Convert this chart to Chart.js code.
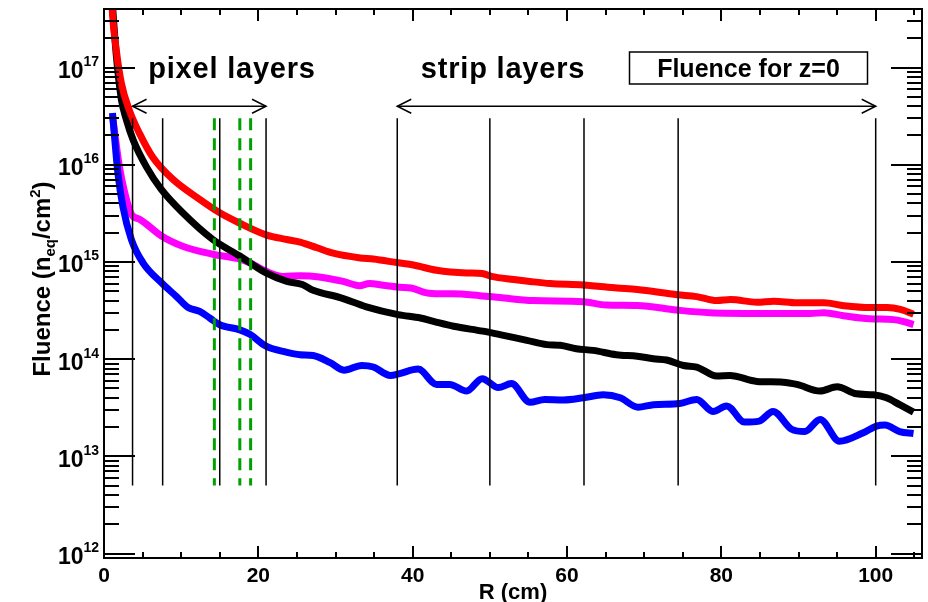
<!DOCTYPE html>
<html>
<head>
  <title>Fluence vs R</title>
  <script src="https://cdn.jsdelivr.net/npm/chart.js@4"></script>
  <style>
    html, body {
      margin: 0;
      padding: 0;
      background: #fff;
    }
    canvas {
      display: block;
    }
  </style>
</head>
<body>
  <canvas id="fluenceCanvas" width="928" height="602"></canvas>

  <script>
    // radius (cm) and fluence (n_eq/cm^2) for each curve
    const rRed = [1.0, 1.1, 1.6, 2.25, 3.3, 4.6, 6.3, 8.9, 12.4, 15.0, 17.6, 21.0, 23.7, 25.4, 27.6, 29.7, 33.2, 34.9, 38.1, 40.1, 43.1, 47.0, 49.0, 50.2, 53.1, 55.2, 57.8, 62.1, 66.5, 69.1, 74.3, 76.8, 79.4, 81.2, 84.6, 86.8, 89.8, 93.3, 95.9, 99.3, 101.5, 103.2, 104.9];
    const fRed = [5.5e17, 3.6e17, 1.5e17, 6.9e16, 3.6e16, 2.1e16, 1.2e16, 7.1e15, 4.4e15, 3.2e15, 2.5e15, 1.9e15, 1.7e15, 1.6e15, 1.4e15, 1.23e15, 1.1e15, 1.07e15, 9.8e14, 9.3e14, 8.2e14, 7.7e14, 7.6e14, 7.1e14, 6.6e14, 6.3e14, 6.0e14, 5.8e14, 5.4e14, 5.2e14, 4.6e14, 4.4e14, 4.0e14, 4.1e14, 3.85e14, 3.95e14, 3.8e14, 3.8e14, 3.55e14, 3.4e14, 3.4e14, 3.25e14, 2.9e14];

    const rBlack = [1.0, 1.6, 2.25, 2.9, 3.8, 5.5, 7.4, 10.2, 14.1, 17.6, 21.0, 23.7, 25.7, 27.1, 30.6, 34.0, 38.1, 41.0, 42.7, 45.3, 49.1, 51.3, 54.8, 57.4, 59.1, 61.2, 63.4, 66.4, 69.1, 71.2, 72.9, 75.1, 76.8, 79.4, 81.1, 84.6, 88.0, 89.8, 92.8, 95.0, 97.5, 99.7, 101.4, 103.1, 104.9];
    const fBlack = [5.6e17, 1.32e17, 4.7e16, 2.9e16, 1.78e16, 9.5e15, 5.6e15, 3.2e15, 1.7e15, 1.15e15, 7.7e14, 6.3e14, 5.85e14, 5.1e14, 4.3e14, 3.45e14, 2.87e14, 2.65e14, 2.45e14, 2.18e14, 1.94e14, 1.79e14, 1.56e14, 1.41e14, 1.39e14, 1.28e14, 1.23e14, 1.11e14, 1.07e14, 1.01e14, 9.8e13, 8.6e13, 8.3e13, 6.7e13, 6.8e13, 5.9e13, 5.8e13, 5.5e13, 4.7e13, 5.2e13, 4.4e13, 4.3e13, 4.0e13, 3.4e13, 2.85e13];

    const rMagenta = [1.1, 1.4, 2.0, 2.7, 3.55, 4.6, 5.5, 7.4, 10.2, 14.1, 17.6, 18.9, 21.0, 23.2, 25.4, 27.9, 31.0, 33.1, 34.4, 36.2, 38.3, 39.8, 41.8, 43.5, 45.2, 48.7, 51.3, 55.6, 62.1, 65.1, 69.1, 74.2, 78.5, 85.0, 91.5, 93.3, 95.8, 99.2, 102.3, 103.5, 104.9];
    const fMagenta = [3.2e16, 2.1e16, 9.5e15, 5.1e15, 3.1e15, 2.75e15, 2.45e15, 1.86e15, 1.45e15, 1.2e15, 1.07e15, 9.8e14, 8.0e14, 7.1e14, 7.2e14, 7.0e14, 6.3e14, 5.7e14, 6.0e14, 5.75e14, 5.5e14, 5.4e14, 4.8e14, 4.7e14, 4.7e14, 4.5e14, 4.3e14, 4.0e14, 3.9e14, 3.6e14, 3.56e14, 3.2e14, 3.0e14, 2.95e14, 2.95e14, 3.0e14, 2.8e14, 2.6e14, 2.55e14, 2.45e14, 2.27e14];

    const rBlue = [1.1, 1.4, 1.8, 2.45, 3.55, 5.05, 7.45, 9.4, 10.9, 12.4, 13.7, 15.0, 17.6, 18.9, 21.0, 23.6, 25.4, 27.1, 29.3, 31.1, 33.4, 34.9, 37.1, 38.3, 40.7, 43.1, 44.8, 47.0, 49.0, 51.1, 52.8, 55.2, 57.1, 59.5, 62.1, 64.7, 66.9, 69.2, 71.2, 74.6, 76.8, 78.9, 80.7, 83.0, 84.9, 86.7, 89.1, 90.8, 92.8, 95.3, 98.4, 100.1, 101.2, 103.1, 104.9];
    const fBlue = [3.4e16, 1.8e16, 8.2e15, 3.7e15, 1.7e15, 9.8e14, 6.1e14, 4.4e14, 3.4e14, 3.1e14, 2.65e14, 2.26e14, 2.0e14, 1.8e14, 1.36e14, 1.18e14, 1.11e14, 1.09e14, 9.2e13, 7.7e13, 8.6e13, 8.3e13, 6.8e13, 7.1e13, 7.9e13, 5.5e13, 5.5e13, 4.7e13, 6.3e13, 5.1e13, 5.6e13, 3.6e13, 3.85e13, 3.8e13, 4.0e13, 4.3e13, 4.0e13, 3.2e13, 3.4e13, 3.5e13, 3.85e13, 2.9e13, 3.3e13, 2.25e13, 2.3e13, 2.9e13, 1.9e13, 1.8e13, 2.4e13, 1.43e13, 1.75e13, 2.05e13, 2.1e13, 1.8e13, 1.72e13];

    // detector layer radii (cm)
    const pixelLayers = [3.7, 7.6, 15.0, 21.0];
    const pixelDisks = [14.3, 17.6, 19.0];
    const stripLayers = [38.0, 50.0, 62.2, 74.4, 100.0];
    const layerBottom = 5e12;
    const layerTop = 3e16;
    const arrowLevel = 4e16;

    // axes
    const xMin = 0, xMax = 106;
    const yMin = 9e11, yMax = 4e17;
    const xTickLabels = [0, 20, 40, 60, 80, 100];
    const yDecades = [12, 13, 14, 15, 16, 17];

    const FONT = '"Liberation Sans", Arial, Helvetica, sans-serif';

    function toPoints(rs, fs) {
      return rs.map((r, i) => ({ x: r, y: fs[i] }));
    }

    function curve(rs, fs, color) {
      return {
        data: toPoints(rs, fs),
        borderColor: color,
        backgroundColor: color,
        borderWidth: 7,
        borderCapStyle: 'butt',
        borderJoinStyle: 'round',
        pointRadius: 0,
        showLine: true,
        cubicInterpolationMode: 'monotone',
        clip: 0
      };
    }

    function arrowHead(ctx, x, y, dir) {
      ctx.beginPath();
      ctx.moveTo(x - dir * 14, y - 7);
      ctx.lineTo(x, y);
      ctx.lineTo(x - dir * 14, y + 7);
      ctx.stroke();
    }

    function vline(ctx, px, y0, y1) {
      ctx.beginPath();
      ctx.moveTo(px, y0);
      ctx.lineTo(px, y1);
      ctx.stroke();
    }

    const decorations = {
      id: 'decorations',
      afterDatasetsDraw(chart) {
        const ctx = chart.ctx;
        const a = chart.chartArea;
        const xs = chart.scales.x;
        const ys = chart.scales.y;
        ctx.save();

        // layer positions
        const yTop = ys.getPixelForValue(layerTop);
        const yBot = ys.getPixelForValue(layerBottom);
        ctx.strokeStyle = '#000';
        ctx.lineWidth = 1.5;
        pixelLayers.concat(stripLayers).forEach(r => vline(ctx, xs.getPixelForValue(r), yTop, yBot));

        ctx.strokeStyle = '#00a000';
        ctx.lineWidth = 3;
        ctx.setLineDash([12, 8]);
        pixelDisks.forEach(r => vline(ctx, xs.getPixelForValue(r), yTop, yBot));
        ctx.setLineDash([]);

        // arrows spanning each layer group
        const ay = ys.getPixelForValue(arrowLevel);
        ctx.strokeStyle = '#000';
        ctx.lineWidth = 1.5;
        [[pixelLayers[0], pixelLayers[pixelLayers.length - 1]],
         [stripLayers[0], stripLayers[stripLayers.length - 1]]].forEach(([r0, r1]) => {
          const x0 = xs.getPixelForValue(r0);
          const x1 = xs.getPixelForValue(r1);
          ctx.beginPath();
          ctx.moveTo(x0, ay);
          ctx.lineTo(x1, ay);
          ctx.stroke();
          arrowHead(ctx, x0, ay, -1);
          arrowHead(ctx, x1, ay, 1);
        });

        // group titles
        ctx.fillStyle = '#000';
        ctx.textBaseline = 'alphabetic';
        ctx.textAlign = 'center';
        ctx.font = 'bold 29px ' + FONT;
        if ('letterSpacing' in ctx) ctx.letterSpacing = '0.8px';
        ctx.fillText('pixel layers', 232, 78);
        ctx.fillText('strip layers', 503, 78);
        if ('letterSpacing' in ctx) ctx.letterSpacing = '0px';

        // label box
        ctx.lineWidth = 1.5;
        ctx.strokeRect(629.5, 52, 238, 32);
        ctx.font = 'bold 25px ' + FONT;
        ctx.fillText('Fluence for z=0', 748.5, 77);

        // frame
        ctx.lineWidth = 2;
        ctx.strokeRect(a.left, a.top, a.right - a.left, a.bottom - a.top);

        // y ticks, both sides
        ctx.beginPath();
        for (let e = 11; e <= 17; e++) {
          for (let m = 1; m <= 9; m++) {
            const v = m * Math.pow(10, e);
            if (v < yMin || v > yMax) continue;
            const py = Math.round(ys.getPixelForValue(v));
            const len = m === 1 ? 31 : 15;
            ctx.moveTo(a.left, py);
            ctx.lineTo(a.left + len, py);
            ctx.moveTo(a.right, py);
            ctx.lineTo(a.right - len, py);
          }
        }
        // x ticks, bottom and top
        for (let r = 0; r <= xMax; r += 5) {
          const px = Math.round(xs.getPixelForValue(r));
          const len = r % 20 === 0 ? 12 : 6;
          ctx.moveTo(px, a.bottom);
          ctx.lineTo(px, a.bottom - len);
          ctx.moveTo(px, a.top);
          ctx.lineTo(px, a.top + len);
        }
        ctx.stroke();

        // y tick labels 10^n
        yDecades.forEach(e => {
          const py = ys.getPixelForValue(Math.pow(10, e));
          ctx.font = 'bold 23px ' + FONT;
          ctx.textAlign = 'right';
          ctx.fillText('10', a.left - 20.5, py + 10.5);
          ctx.font = 'bold 14px ' + FONT;
          ctx.textAlign = 'left';
          ctx.fillText(String(e), a.left - 20.5, py - 1.5);
        });

        // x tick labels
        ctx.font = 'bold 21px ' + FONT;
        ctx.textAlign = 'center';
        xTickLabels.forEach(r => {
          ctx.fillText(String(r), xs.getPixelForValue(r), a.bottom + 23.5);
        });

        // axis titles
        ctx.font = 'bold 22px ' + FONT;
        ctx.fillText('R (cm)', (a.left + a.right) / 2, a.bottom + 41);

        const parts = [
          { t: 'Fluence (n', size: 24, dy: 0 },
          { t: 'eq', size: 15, dy: 5 },
          { t: '/cm', size: 24, dy: 0 },
          { t: '2', size: 15, dy: -10 },
          { t: ')', size: 24, dy: 0 }
        ];
        let total = 0;
        parts.forEach(p => {
          ctx.font = 'bold ' + p.size + 'px ' + FONT;
          p.w = ctx.measureText(p.t).width;
          total += p.w;
        });
        ctx.translate(50, 279);
        ctx.rotate(-Math.PI / 2);
        ctx.textAlign = 'left';
        let cx = -total / 2;
        parts.forEach(p => {
          ctx.font = 'bold ' + p.size + 'px ' + FONT;
          ctx.fillText(p.t, cx, p.dy);
          cx += p.w;
        });

        ctx.restore();
      }
    };

    const chart = new Chart(document.getElementById('fluenceCanvas').getContext('2d'), {
      type: 'scatter',
      data: {
        datasets: [
          curve(rRed, fRed, '#ff0000'),
          curve(rBlack, fBlack, '#000000'),
          curve(rBlue, fBlue, '#0000ff'),
          curve(rMagenta, fMagenta, '#ff00ff')
        ]
      },
      options: {
        responsive: false,
        animation: false,
        devicePixelRatio: 1,
        layout: {
          padding: { left: 104, right: 6, top: 9, bottom: 44 }
        },
        scales: {
          x: { type: 'linear', min: xMin, max: xMax, display: false },
          y: { type: 'logarithmic', min: yMin, max: yMax, display: false }
        },
        plugins: {
          legend: { display: false },
          tooltip: { enabled: false }
        }
      },
      plugins: [decorations]
    });
  </script>
</body>
</html>
